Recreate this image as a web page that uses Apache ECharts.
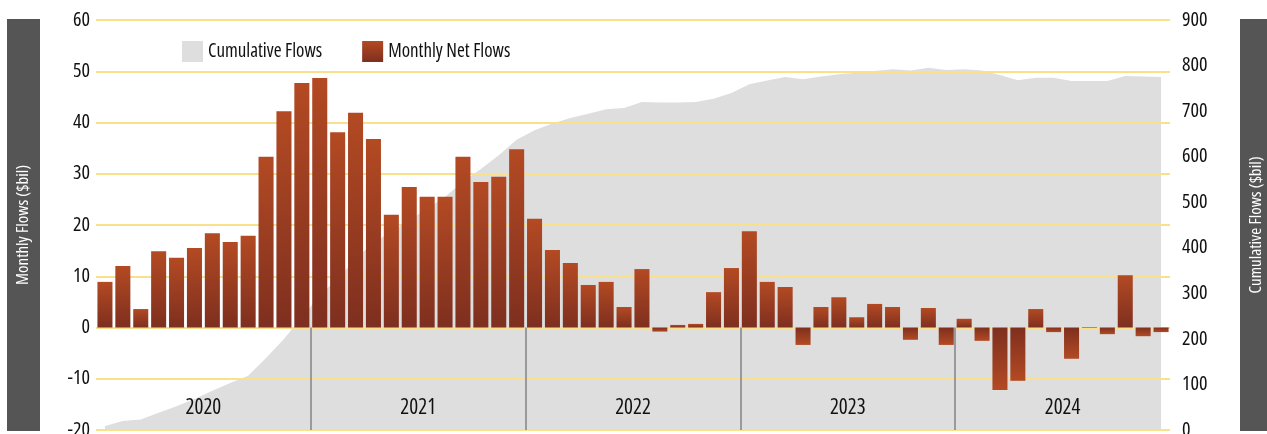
<!DOCTYPE html>
<html>
<head>
<meta charset="utf-8">
<title>Monthly and Cumulative Flows</title>
<script src="https://cdn.jsdelivr.net/npm/echarts@6/dist/echarts.min.js"></script>
<style>
	html, body {
		margin: 0;
		padding: 0;
		background: #fff;
	}
	#chart {
		width: 1267px;
		height: 434px;
	}
</style>
</head>
<body>
<div id="chart"></div>

<script type="text/javascript">
	// 月份（2020-01 ~ 2024-12）
	var months = [];
	['2020', '2021', '2022', '2023', '2024'].forEach(function (y) {
		for (var m = 1; m <= 12; m++) {
			months.push(y + '-' + (m < 10 ? '0' + m : m));
		}
	});

	var years = ['2020', '2021', '2022', '2023', '2024'];

	// 年份分隔线位置（以月份序号计）
	var yearBreaks = [12, 24, 36, 48];

	// 每月净流入（$bil）
	var monthlyFlows = [
		8.9, 12.0, 3.6, 14.9, 13.6, 15.5, 18.4, 16.7, 17.9, 33.3, 42.2, 47.7,
		48.7, 38.1, 41.9, 36.8, 22.0, 27.4, 25.5, 25.5, 33.3, 28.4, 29.4, 34.8,
		21.2, 15.1, 12.6, 8.3, 8.9, 4.0, 11.4, -0.8, 0.5, 0.7, 6.9, 11.6,
		18.8, 8.9, 7.9, -3.4, 4.0, 5.9, 2.0, 4.6, 4.0, -2.4, 3.8, -3.4,
		1.7, -2.6, -12.2, -10.4, 3.6, -0.9, -6.1, 0.1, -1.3, 10.2, -1.7, -0.9
	];

	// 累计流入（$bil）
	var cumulativeFlows = [
		9, 20, 23, 38, 52, 68, 86, 103, 119, 158, 200, 248,
		295, 333, 375, 412, 434, 461, 486, 512, 545, 573, 603, 637,
		658, 673, 685, 694, 704, 707, 720, 719, 719, 720, 727, 740,
		759, 767, 775, 770, 776, 781, 784, 788, 792, 789, 795, 790,
		792, 789, 779, 768, 773, 773, 766, 766, 766, 777, 776, 775
	];

	var FONT = "'Open Sans', 'Noto Sans', Roboto, sans-serif";
	var STRETCH = 'condensed';

	// 轴标题的深灰底框长度
	var NAME_BOX = 412;

	// 按文字宽度算出左右留白，让底框居中铺满
	function boxPadding(text, size, weight) {
		var ctx = document.createElement('canvas').getContext('2d');
		ctx.font = STRETCH + ' ' + weight + ' ' + size + 'px ' + FONT;
		var w = ctx.measureText(text).width;
		var side = Math.max(0, (NAME_BOX - w) / 2);
		return [8, side, 8, side];
	}

	// 柱子渐变：靠近 0 轴颜色深，远端颜色浅
	function barGradient(up) {
		return new echarts.graphic.LinearGradient(0, up ? 0 : 1, 0, up ? 1 : 0, [
			{ offset: 0, color: '#B34A23' },
			{ offset: 1, color: '#7E2F1F' }
		]);
	}

	var barData = monthlyFlows.map(function (v) {
		return { value: v, itemStyle: { color: barGradient(v >= 0) } };
	});

	var breakLines = yearBreaks.map(function (m) {
		return [{ coord: [m, 0] }, { coord: [m, -20] }];
	});

	var leftName = 'Monthly Flows ($bil)';
	var rightName = 'Cumulative Flows ($bil)';

	function nameStyle(text) {
		return {
			color: '#fff',
			backgroundColor: '#555555',
			padding: boxPadding(text, 17, 500),
			align: 'center',
			verticalAlign: 'middle',
			fontSize: 17,
			fontWeight: 500,
			fontFamily: FONT,
			fontStyle: STRETCH
		};
	}

	var labelStyle = { fontSize: 20, fontWeight: 500, color: '#111', fontFamily: FONT, fontStyle: STRETCH };

	var option = {
		animation: false,
		textStyle: { fontFamily: FONT, fontStyle: STRETCH },
		legend: {
			left: 177,
			top: 36,
			itemWidth: 21,
			itemHeight: 21,
			itemGap: 40,
			textStyle: { fontSize: 19, fontWeight: 500, color: '#111', fontFamily: FONT, fontStyle: STRETCH },
			data: [
				{ name: 'Cumulative Flows', icon: 'rect' },
				{ name: 'Monthly Net Flows', icon: 'rect' }
			]
		},
		grid: { left: 96, right: 97, top: 20, bottom: 4, containLabel: false, outerBoundsMode: 'none' },
		xAxis: [
			{
				type: 'category',
				data: months,
				show: false,
				boundaryGap: true
			},
			{
				// 年份标签
				type: 'category',
				data: years,
				position: 'bottom',
				boundaryGap: true,
				z: 2,
				axisLine: { show: false },
				axisTick: { show: false },
				axisLabel: Object.assign({ inside: true, margin: 11 }, labelStyle, { fontSize: 21 }),
				splitLine: { show: false }
			},
			{
				// 用于画年份分隔线的隐藏数值轴（按月计）
				type: 'value',
				min: 0,
				max: months.length,
				show: false
			}
		],
		yAxis: [
			{
				type: 'value',
				min: -20,
				max: 60,
				interval: 10,
				z: 2,
				axisLine: { show: false },
				axisTick: { show: false },
				axisLabel: Object.assign({ margin: 6 }, labelStyle),
				splitLine: { lineStyle: { color: '#F9E08C', width: 2 } },
				name: leftName,
				nameLocation: 'middle',
				nameRotate: 90,
				nameGap: 72.5,
				nameTextStyle: nameStyle(leftName)
			},
			{
				type: 'value',
				min: 0,
				max: 900,
				interval: 100,
				position: 'right',
				axisLine: { show: false },
				axisTick: { show: false },
				axisLabel: Object.assign({ margin: 12 }, labelStyle),
				splitLine: { show: false },
				name: rightName,
				nameLocation: 'middle',
				nameRotate: 90,
				nameGap: 86.5,
				nameTextStyle: nameStyle(rightName)
			}
		],
		series: [
			{
				name: 'Cumulative Flows',
				type: 'line',
				xAxisIndex: 0,
				yAxisIndex: 1,
				z: 1,
				data: cumulativeFlows,
				symbol: 'none',
				lineStyle: { width: 0, color: '#DEDEDE' },
				itemStyle: { color: '#DEDEDE' },
				areaStyle: { color: '#DEDEDE', opacity: 1 }
			},
			{
				// 年份分隔线
				name: 'year-breaks',
				type: 'line',
				xAxisIndex: 2,
				yAxisIndex: 0,
				z: 2,
				data: [],
				markLine: {
					silent: true,
					symbol: 'none',
					label: { show: false },
					lineStyle: { color: '#9a9a9a', width: 2, type: 'solid' },
					data: breakLines
				}
			},
			{
				name: 'Monthly Net Flows',
				type: 'bar',
				xAxisIndex: 0,
				yAxisIndex: 0,
				z: 3,
				barCategoryGap: '16%',
				itemStyle: { color: barGradient(true) },
				data: barData
			}
		]
	};

	var chart = echarts.init(document.getElementById('chart'));
	chart.setOption(option);

	window.addEventListener('resize', function () {
		chart.resize();
	});
</script>
</body>
</html>
